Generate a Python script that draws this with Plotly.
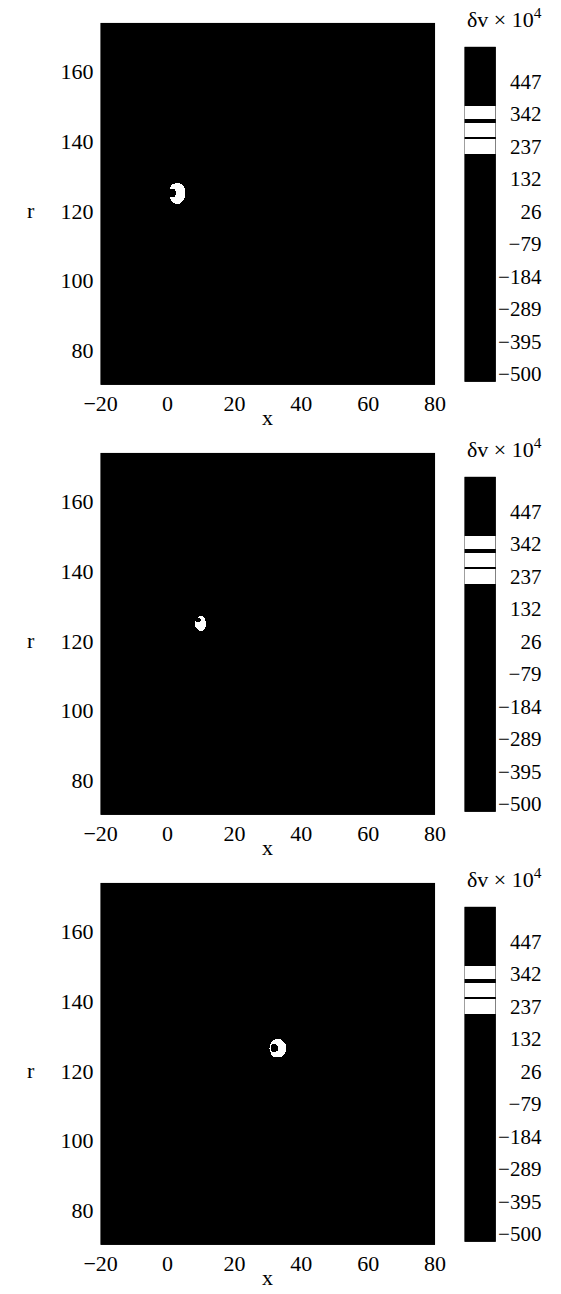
import numpy as np
import plotly.graph_objects as go

# ---- domain of the (x, r) plane ----
x_range = [-20, 80]
r_range = [70, 174]
grid_step = 0.25

x_ticks = [-20, 0, 20, 40, 60, 80]
r_ticks = [80, 100, 120, 140, 160]

# ---- vortex ring cross-section in each frame ----
ring_x = [2.9, 10.0, 33.0]
ring_r = [125.1, 125.0, 126.5]
ring_rx = [2.4, 1.6, 2.5]
ring_ry = [3.0, 2.2, 2.7]
core_x = [1.45, 9.3, 32.0]
core_r = [125.3, 126.0, 126.5]
core_rad = [1.2, 0.75, 1.2]

# delta-v levels (x 1e4)
dv_background = 0
dv_ring = 290
dv_core = 420

# ---- colour bar ----
cbar_range = [-526, 560]
cbar_tickvals = [-500, -394.7, -289.5, -184.2, -78.9, 26.3, 131.6, 236.8, 342.1, 447.4]
cbar_ticktext = ["\u2212500", "\u2212395", "\u2212289", "\u2212184", "\u221279",
                 "26", "132", "237", "342", "447"]
white_bands = [(213, 260), (268, 315), (325, 367)]

# ---- layout geometry (pixels) ----
W, H = 561, 1294
panel_h = H / 3.0
plot_left, plot_right = 88, 440
plot_top, plot_bottom = 23, 386
cb_left, cb_right = 471, 504
cb_top, cb_bottom = 47, 383
cb_label_x = 552

FONT = "Liberation Serif, Times New Roman, serif"


def build_colorscale():
    lo, hi = cbar_range
    span = hi - lo
    cs = [[0.0, "black"]]
    for a, b in white_bands:
        ta, tb = (a - lo) / span, (b - lo) / span
        cs += [[ta, "black"], [ta, "white"], [tb, "white"], [tb, "black"]]
    cs.append([1.0, "black"])
    return cs


colorscale = build_colorscale()

xs = np.arange(x_range[0], x_range[1] + grid_step / 2, grid_step)
rs = np.arange(r_range[0], r_range[1] + grid_step / 2, grid_step)
XX, RR = np.meshgrid(xs, rs)


def dv_field(i):
    z = np.full(XX.shape, dv_background, dtype=np.int16)
    outer = ((XX - ring_x[i]) / ring_rx[i]) ** 2 + ((RR - ring_r[i]) / ring_ry[i]) ** 2 <= 1.0
    core = (XX - core_x[i]) ** 2 + (RR - core_r[i]) ** 2 <= core_rad[i] ** 2
    z[outer] = dv_ring
    z[core] = dv_core
    return z


def py(px):
    return 1.0 - px / H


cb_vals = np.arange(cbar_range[0], cbar_range[1] + 1, 1.0)

fig = go.Figure()
layout = dict(
    width=W, height=H, autosize=False,
    margin=dict(l=0, r=0, t=0, b=0),
    paper_bgcolor="white", plot_bgcolor="black",
    showlegend=False,
    font=dict(family=FONT, size=22, color="black"),
)
annotations = []

for i in range(3):
    off = i * panel_h
    ma, ca = 2 * i + 1, 2 * i + 2
    xa_m, ya_m = f"x{ma}", f"y{ma}"
    xa_c, ya_c = f"x{ca}", f"y{ca}"

    fig.add_trace(go.Heatmap(
        x=xs, y=rs, z=dv_field(i),
        zmin=cbar_range[0], zmax=cbar_range[1],
        colorscale=colorscale, showscale=False,
        xaxis=xa_m, yaxis=ya_m, hoverinfo="skip",
    ))
    fig.add_trace(go.Heatmap(
        x=[0], y=cb_vals, z=cb_vals.reshape(-1, 1),
        zmin=cbar_range[0], zmax=cbar_range[1],
        colorscale=colorscale, showscale=False,
        xaxis=xa_c, yaxis=ya_c, hoverinfo="skip",
    ))

    main_ydom = [py(off + plot_bottom), py(off + plot_top)]
    cb_ydom = [py(off + cb_bottom), py(off + cb_top)]

    layout[f"xaxis{ma}"] = dict(
        domain=[plot_left / W, plot_right / W], range=x_range, anchor=ya_m,
        tickvals=x_ticks, ticks="", showgrid=False, zeroline=False,
        showline=False, ticklabelstandoff=3,
        tickfont=dict(family=FONT, size=22, color="black"),
    )
    layout[f"yaxis{ma}"] = dict(
        domain=main_ydom, range=r_range, anchor=xa_m,
        tickvals=r_ticks, ticks="", showgrid=False, zeroline=False,
        showline=False, ticklabelstandoff=6,
        tickfont=dict(family=FONT, size=22, color="black"),
    )
    layout[f"xaxis{ca}"] = dict(
        domain=[cb_left / W, cb_right / W], range=[-0.5, 0.5], anchor=ya_c,
        visible=False, showgrid=False, zeroline=False,
    )
    layout[f"yaxis{ca}"] = dict(
        domain=cb_ydom, range=cbar_range, anchor="free", position=cb_label_x / W,
        side="left", tickvals=cbar_tickvals, ticktext=cbar_ticktext,
        ticks="", showgrid=False, zeroline=False, showline=False,
        ticklabelstandoff=0,
        tickfont=dict(family=FONT, size=21, color="black"),
    )

    # axis names and colour-bar caption
    annotations.append(dict(
        text="x", xref="paper", yref="paper",
        x=(plot_left + plot_right) / 2 / W, y=py(off + 419),
        showarrow=False, xanchor="center", yanchor="middle",
        font=dict(family=FONT, size=22, color="black"),
    ))
    annotations.append(dict(
        text="r", xref="paper", yref=ya_m,
        x=15 / W, y=120,
        showarrow=False, xanchor="center", yanchor="middle",
        font=dict(family=FONT, size=22, color="black"),
    ))
    annotations.append(dict(
        text="\u03b4v \u00d7 10<sup>4</sup>", xref="paper", yref="paper",
        x=513 / W, y=py(off + 18),
        showarrow=False, xanchor="center", yanchor="middle",
        font=dict(family=FONT, size=22, color="black"),
    ))

layout["annotations"] = annotations
fig.update_layout(**layout)
fig.write_html("out.html")
